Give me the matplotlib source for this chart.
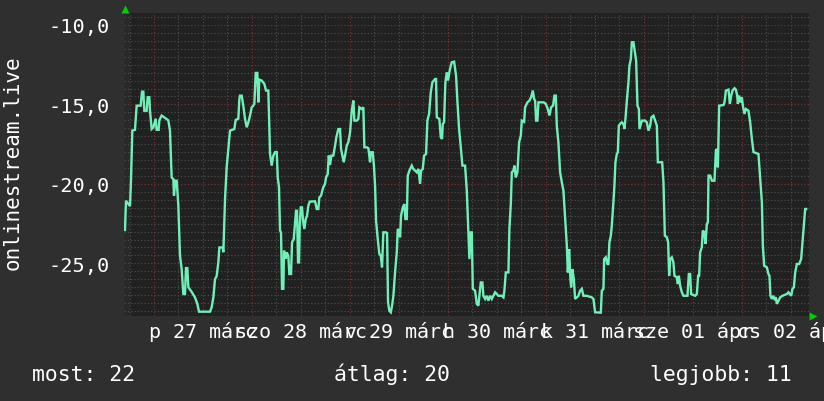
import matplotlib
matplotlib.use("Agg")
import matplotlib.pyplot as plt
import numpy as np

# hours since 27 Mar 00:00, value
hours = [
    -7.11, -6.86, -5.88, -5.64, -5.31, -4.66, -4.25, -3.27, -2.94, -2.61,
    -2.37, -1.80, -1.55, -1.14, -0.98, -0.57, -0.16, 0.41, 0.65, 1.14,
    1.31, 1.88, 2.70, 3.51, 3.92, 4.33, 4.74, 4.90, 5.23, 5.56,
    5.97, 6.37, 6.78, 7.19, 7.60, 7.84, 8.17, 8.42, 9.24, 10.05,
    10.62, 11.03, 13.73, 14.14, 14.55, 14.95, 15.36, 15.77, 16.02, 16.84,
    17.00, 17.41, 17.81, 18.22, 18.63, 19.69, 20.02, 20.67, 20.92,
    21.08, 21.50, 21.89, 22.31, 22.73, 23.12, 23.53, 23.95, 24.34, 24.59,
    24.93, 25.32, 25.57, 25.81, 26.40, 27.04, 27.46, 28.02, 28.44, 28.85,
    29.25, 29.66, 30.08, 30.33, 30.64, 30.89, 31.13, 31.38, 31.70, 31.87,
    32.28, 32.53, 32.92, 33.17, 33.59, 33.83, 34.25, 34.57, 34.81, 35.06,
    35.30, 35.55, 35.72, 35.96, 36.28, 36.53, 36.85, 37.19, 37.51, 37.83,
    38.17, 39.05, 39.47, 39.89, 40.28, 40.52, 40.94, 41.26, 41.50, 41.92,
    42.17, 42.58, 42.83, 43.15, 43.47, 43.96, 44.37, 44.69, 45.18, 45.60,
    45.84, 46.16, 46.50, 46.82, 47.24, 47.63, 48.05, 48.47, 48.86,
    49.11, 49.69, 50.08, 50.33, 50.92, 51.31, 51.56, 52.14, 52.54, 52.95,
    53.20, 53.61, 53.93, 54.18, 54.42, 54.84, 55.23, 55.58, 55.89, 56.21,
    56.87, 57.12, 57.36, 57.68, 58.03, 58.35, 58.67, 59.08, 59.50, 59.74,
    60.06, 60.31, 60.55, 60.97, 61.36, 61.61, 61.95, 62.19, 62.59, 63.17,
    63.56, 63.98, 64.40, 64.79, 65.21, 65.45, 65.87, 66.19, 66.68, 67.00,
    67.42, 67.83, 68.23, 68.89, 69.13, 69.30, 69.94, 70.28, 70.60, 70.77,
    71.09, 71.41, 71.76, 72.07, 72.39, 72.74, 72.98, 73.55, 74.03, 74.35,
    74.77, 75.19, 75.58, 76.24,
    76.66, 77.05, 77.30, 77.64, 77.89, 78.13, 78.69, 79.11, 79.50, 79.75,
    80.09, 80.48, 80.73, 81.15, 81.56, 81.95, 82.37, 82.79, 83.18, 83.60,
    84.41, 85.24, 85.64, 85.88, 86.22, 86.86, 87.10, 87.45, 87.69, 88.08,
    88.33, 88.67, 89.07, 89.48, 89.90, 90.14, 90.71, 90.95, 91.52, 92.01,
    92.42, 92.84, 93.16, 93.40, 93.65, 93.97, 94.21, 95.53, 96.02, 96.51,
    96.91, 97.32, 97.81, 98.13, 98.48, 98.72, 99.11, 99.53, 99.95, 100.34,
    100.76, 101.18, 101.42, 101.74, 102.06, 102.23, 102.55, 102.89, 103.21, 104.02,
    104.43, 104.85, 105.24,
    106.08, 107.30, 107.70, 108.11, 109.51, 109.75, 110.15, 110.32, 110.73, 111.12,
    111.37, 111.61, 111.96, 112.20, 112.59, 112.84, 113.09, 113.43, 113.68, 113.92,
    114.24, 114.66, 115.05, 115.30, 115.54, 115.89, 116.28, 116.52, 116.87, 117.11,
    117.50, 117.75, 118.16, 118.49, 118.83, 118.98, 119.57, 120.37, 120.79, 121.18,
    121.60, 121.92, 122.41, 122.82, 123.24, 123.48, 124.54, 124.86, 125.20, 125.69,
    126.01, 126.25, 126.50, 126.91, 127.30, 127.55, 128.14, 128.38, 128.63, 128.95,
    129.36, 129.76, 130.74, 131.08, 131.40, 131.64, 132.62, 133.04, 133.36,
    133.60, 133.85, 134.26, 134.50, 134.90, 135.15, 135.49, 135.74, 135.90, 136.31,
    136.73, 137.36, 137.71, 137.95, 138.20, 138.51, 139.57, 139.82, 140.16, 140.80,
    141.14, 141.46, 141.78, 142.27, 142.61, 142.93, 143.09, 143.41, 143.73, 144.07,
    144.32, 144.71, 145.06, 145.69, 146.11, 146.53, 146.92, 148.14, 148.56, 148.98,
    149.22, 149.54, 150.20, 150.59, 150.84, 151.08, 151.42, 151.74, 152.06, 152.40,
    152.65, 153.04, 153.46, 154.02, 155.10, 155.49, 156.16, 156.48, 156.82, 157.14,
    157.55, 158.12, 158.60, 158.93, 159.17, 159.59, 159.83,
]
values = [
    -22.9, -21.06, -21.4, -19.8, -16.65, -16.6, -15.08, -15.08, -14.2, -14.2,
    -15.4, -15.4, -14.55, -14.55, -15.4, -16.55, -16.45, -15.9, -16.6, -16.6,
    -16.0, -15.7, -15.85, -16.0, -16.65, -19.6, -19.7, -20.74, -19.8, -19.8,
    -21.37, -24.5, -25.36, -26.93, -26.93, -25.3, -25.3, -26.5, -26.8, -27.14,
    -27.55, -28.04, -28.04, -27.76, -27.14, -26.0, -25.8, -24.94, -24.0, -24.0,
    -24.3, -20.95, -18.96, -17.8, -16.65, -16.55, -15.98, -15.9, -14.66,
    -14.45, -14.45, -15.08, -15.92, -16.44, -16.13, -15.71, -15.18, -15.08, -14.97,
    -13.02, -13.02, -14.87, -13.44, -13.5, -13.71, -14.13, -14.13, -18.12, -18.85,
    -18.22, -18.0, -18.0, -19.59, -20.21, -22.94, -23.05, -26.6, -26.6, -24.2,
    -24.7, -24.31, -24.52, -25.67, -25.67, -23.68, -23.47, -22.42, -21.69, -21.69,
    -24.94, -24.94, -22.63, -21.48, -21.48, -22.31, -22.84, -22.21, -22.0, -21.37,
    -21.12, -21.1, -21.1, -21.58, -21.58, -20.85, -20.74, -20.42, -20.21, -20.0,
    -19.59, -19.38, -18.22, -18.81, -18.22, -18.22, -17.6, -17.07, -16.55, -16.55,
    -17.8, -18.22, -18.64, -18.22, -17.6, -17.38, -16.76, -15.39, -14.76,
    -16.02, -16.02, -15.92, -15.18, -15.29, -15.18, -17.7, -17.7, -17.76, -18.64,
    -18.01, -18.01, -18.96, -20.11, -22.31, -23.47, -24.41, -24.52, -25.25, -23.05,
    -23.05, -23.1, -27.45, -27.98, -28.08, -27.66, -27.04, -25.57, -24.31, -22.84,
    -22.94, -23.36, -22.0, -21.48, -21.27, -22.21, -22.21, -19.48, -19.17, -18.85,
    -19.06, -19.17, -19.27, -19.06, -20.0, -19.17, -19.06, -18.22, -18.12, -16.02,
    -15.6, -14.24, -13.61, -13.4, -13.4, -15.81, -15.92, -17.07, -17.17, -16.23,
    -16.13, -13.61, -12.98, -13.5, -12.98, -12.56, -12.35, -12.31, -13.19, -14.76,
    -16.55, -17.7, -18.85, -18.85,
    -20.42, -23.05, -24.73, -23.05, -23.05, -26.6, -26.72, -27.55, -27.66, -27.04,
    -26.2, -26.2, -27.04, -27.24, -27.04, -27.35, -27.04, -27.24, -27.04, -26.82,
    -27.04, -27.04, -27.14, -26.72, -25.57, -25.57, -22.84, -21.27, -19.27, -19.17,
    -18.85, -19.59, -19.27, -17.38, -16.97, -16.02, -16.1, -15.18, -14.87, -14.76,
    -14.55, -14.13, -14.66, -14.76, -16.02, -16.02, -14.87, -14.87, -14.97, -15.29,
    -15.7, -15.18, -15.08, -14.45, -14.45, -16.34, -17.38, -19.27, -19.9, -20.42,
    -22.21, -23.89, -25.57, -24.1, -25.98, -26.51, -25.36, -25.98, -27.24, -27.04,
    -26.72, -26.6, -27.04,
    -27.04, -27.14, -27.24, -28.08, -28.1, -26.72, -26.6, -24.73, -24.62, -25.04,
    -25.04, -23.68, -23.26, -22.63, -21.16, -20.11, -18.64, -18.12, -18.01, -16.34,
    -16.23, -16.13, -16.23, -16.55, -15.92, -14.76, -13.61, -12.56, -12.14, -11.09,
    -11.09, -11.51, -12.24, -15.08, -15.29, -16.55, -16.02, -16.02, -16.13, -16.65,
    -16.34, -15.81, -15.71, -16.02, -16.34, -18.64, -18.64, -19.9, -23.26, -23.36,
    -23.68, -25.78, -24.73, -24.62, -24.94, -25.78, -25.88, -26.3, -25.78, -26.41,
    -26.82, -27.04, -27.04, -25.67, -25.67, -26.93, -27.04, -26.93, -25.78,
    -25.78, -24.31, -23.99, -22.94, -23.05, -23.78, -22.52, -22.42, -19.48, -19.48,
    -19.8, -19.8, -17.9, -17.8, -18.96, -15.08, -15.04, -14.87, -14.13, -14.07,
    -14.97, -14.45, -14.13, -13.98, -14.07, -14.45, -14.97, -14.45, -14.87, -14.55,
    -15.08, -15.6, -15.29, -15.39, -16.13, -17.17, -18.0, -18.12, -19.69, -21.16,
    -23.89, -25.15, -25.25, -25.67, -25.78, -27.04, -27.24, -27.04, -27.24, -27.14,
    -27.55, -27.35, -27.14, -27.04, -26.93, -26.82, -27.04, -26.6, -26.51, -25.57,
    -25.04, -25.04, -24.73, -23.68, -22.84, -21.58, -21.58,
]

day_labels = ["p 27 márc", "szo 28 márc", "v 29 márc", "h 30 márc",
              "k 31 márc", "sze 01 ápr", "cs 02 ápr"]
y_ticks = [-25, -20, -15, -10]
legend_texts = ["most: 22", "átlag: 20", "legjobb: 11"]
y_title = "onlinestream.live"

BG = "#2f2f2f"
PLOT_BG = "#212121"
LINE = "#70f0b8"
MINOR = "#505050"
MAJOR = "#7e3636"
MONO = "DejaVu Sans Mono"

x0, x1 = -7.35, 160.65
y0, y1 = -28.28, -9.25

fig = plt.figure(figsize=(8.24, 4.02), dpi=100, facecolor=BG)
ax = fig.add_axes([124 / 824, 1 - 316.5 / 402, 685.5 / 824, 302.5 / 402])
ax.set_facecolor(PLOT_BG)
ax.set_xlim(x0, x1)
ax.set_ylim(y0, y1)
for s in ax.spines.values():
    s.set_visible(False)

ax.axvspan(x0, -6, color="#292929", lw=0, zorder=0)

# grid: 0.5 minor / 5 major, 6h minor / 24h major
for yv in np.arange(-28.0, -9.0, 0.5):
    major = abs(yv % 5) < 1e-9
    ax.axhline(yv, color=MAJOR if major else MINOR, lw=0.8,
               ls=(0, (1, 2)), zorder=1)
for hv in np.arange(-6, 161, 6):
    major = hv % 24 == 0
    ax.axvline(hv, color=MAJOR if major else MINOR, lw=0.8,
               ls=(0, (1, 2)), zorder=1)

ax.plot(hours, values, color=LINE, lw=1.7, zorder=3, solid_joinstyle="miter")

ax.set_yticks(y_ticks)
ax.set_yticklabels([f"{v:.1f}".replace(".", ",") for v in y_ticks],
                   fontfamily=MONO, fontsize=14.6, color="white")
ax.tick_params(axis="y", length=0, pad=10.5)
ax.set_xticks([])

for i, lab in enumerate(day_labels):
    ax.text(12 + 24 * i, -0.071, lab, transform=ax.get_xaxis_transform(),
            ha="center", va="baseline", fontfamily=MONO, fontsize=14.4,
            color="white", clip_on=False)

fig.text(13 / 824, 1 - 163 / 402, y_title, rotation=90, ha="center",
         va="center", fontfamily=MONO, fontsize=15, color="white")

legend_x = [32, 334, 650]
for lx, txt in zip(legend_x, legend_texts):
    fig.text(lx / 824, 1 - 381 / 402, txt, ha="left", va="baseline",
             fontfamily=MONO, fontsize=15.4, color="white")

# little green arrows at the axis ends
ax.plot([0.0015], [1.0116], marker="^", ms=6, color="#00d000", mec="none",
        transform=ax.transAxes, clip_on=False)
ax.plot([1.005], [0.0], marker=">", ms=6, color="#00d000", mec="none",
        transform=ax.transAxes, clip_on=False)

fig.savefig("out.png", dpi=100, facecolor=BG)
